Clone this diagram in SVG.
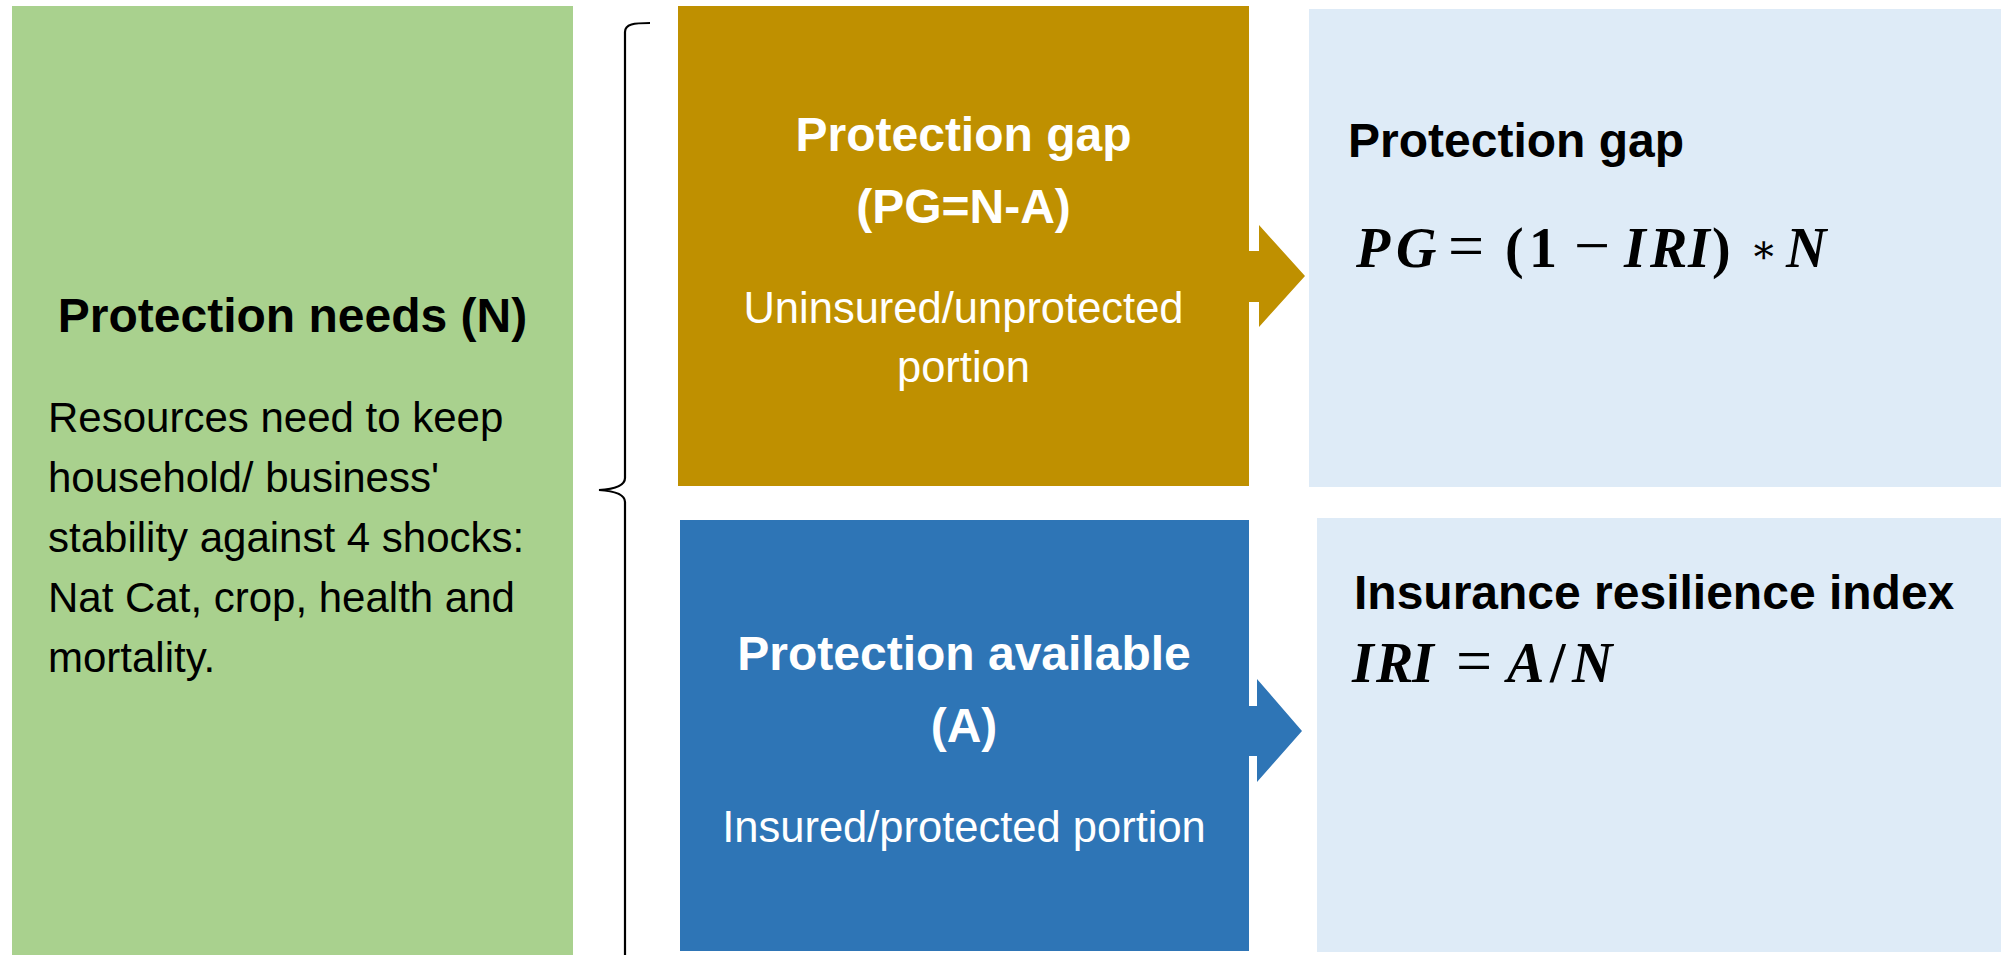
<svg xmlns="http://www.w3.org/2000/svg" width="2001" height="955" viewBox="0 0 2001 955">
  <style>
    .title { font-family: "Liberation Sans", Arial, sans-serif; font-weight: bold; font-size: 48px; }
    .body { font-family: "Liberation Sans", Arial, sans-serif; font-size: 42px; }
    .sub { font-family: "Liberation Sans", Arial, sans-serif; font-size: 43.5px; fill: #FFFFFF; text-anchor: middle; }
    .white { fill: #FFFFFF; text-anchor: middle; }
    .dark { fill: #000000; }
    .math { font-family: "Liberation Serif", "DejaVu Serif", serif; font-weight: bold; font-size: 56px; fill: #000000; }
    .it { font-style: italic; }
    .op { font-size: 64px; font-weight: normal; }
    .star { font-family: "DejaVu Serif", serif; font-size: 40px; font-weight: normal; }
    .bracket { fill: none; stroke: #000000; stroke-width: 2.2; }
  </style>

  <rect x="0" y="0" width="2001" height="955" fill="#FFFFFF"/>

  <!-- Left column: total needs -->
  <g id="node-needs">
    <rect x="12" y="6" width="561" height="949" fill="#A9D18E"/>
    <text class="title dark" x="292.5" y="332" text-anchor="middle">Protection needs (N)</text>
    <text class="body dark" x="48" y="432">Resources need to keep</text>
    <text class="body dark" x="48" y="492">household/ business'</text>
    <text class="body dark" x="48" y="552">stability against 4 shocks:</text>
    <text class="body dark" x="48" y="612">Nat Cat, crop, health and</text>
    <text class="body dark" x="48" y="672">mortality.</text>
  </g>

  <!-- Brace splitting needs into gap and available protection -->
  <g id="brace">
    <path class="bracket" d="M650,23 C634,23 625,24 625,32 L625,478 C625,486 615,489 599,490 C615,491 625,494 625,502 L625,960"/>
  </g>

  <!-- Uninsured portion -->
  <g id="node-gap">
    <rect x="678" y="6" width="571" height="480" fill="#BF9000"/>
    <text class="title white" x="963.5" y="151">Protection gap</text>
    <text class="title white" x="963.5" y="223">(PG=N-A)</text>
    <text class="sub" x="963.5" y="323">Uninsured/unprotected</text>
    <text class="sub" x="963.5" y="382">portion</text>
  </g>

  <!-- Insured portion -->
  <g id="node-available">
    <rect x="680" y="520" width="569" height="431" fill="#2E75B6"/>
    <text class="title white" x="964" y="670">Protection available</text>
    <text class="title white" x="964" y="742">(A)</text>
    <text class="sub" x="964" y="842">Insured/protected portion</text>
  </g>

  <!-- Gap formula panel -->
  <g id="node-gap-formula">
    <rect x="1309" y="9" width="692" height="478" fill="#DEEBF7"/>
    <text class="title dark" x="1348" y="157">Protection gap</text>
    <text class="math" y="267"><tspan class="it" x="1356">P</tspan><tspan class="it" x="1396">G</tspan><tspan class="op" x="1448">=</tspan><tspan x="1505">(</tspan><tspan x="1529">1</tspan><tspan class="op" x="1574">−</tspan><tspan class="it" x="1624">I</tspan><tspan class="it" x="1650">R</tspan><tspan class="it" x="1688">I</tspan><tspan x="1712">)</tspan><tspan class="star" x="1750" dy="-4">∗</tspan><tspan class="it" x="1786" dy="4">N</tspan></text>
  </g>

  <!-- Resilience index panel -->
  <g id="node-iri">
    <rect x="1317" y="518" width="684" height="434" fill="#DEEBF7"/>
    <text class="title dark" x="1354" y="609">Insurance resilience index</text>
    <text class="math" y="682"><tspan class="it" x="1352">I</tspan><tspan class="it" x="1376">R</tspan><tspan class="it" x="1412">I</tspan><tspan class="op" x="1456">=</tspan><tspan class="it" x="1507">A</tspan><tspan x="1550">/</tspan><tspan class="it" x="1572">N</tspan></text>
  </g>

  <!-- Block arrows into the formula panels -->
  <g id="connectors">
    <path d="M1248,251 L1259,251 L1259,225 L1305,276 L1259,327 L1259,302 L1248,302 Z" fill="#BF9000"/>
    <path d="M1248,706 L1257,706 L1257,679 L1302,731 L1257,782 L1257,756 L1248,756 Z" fill="#2E75B6"/>
  </g>
</svg>
